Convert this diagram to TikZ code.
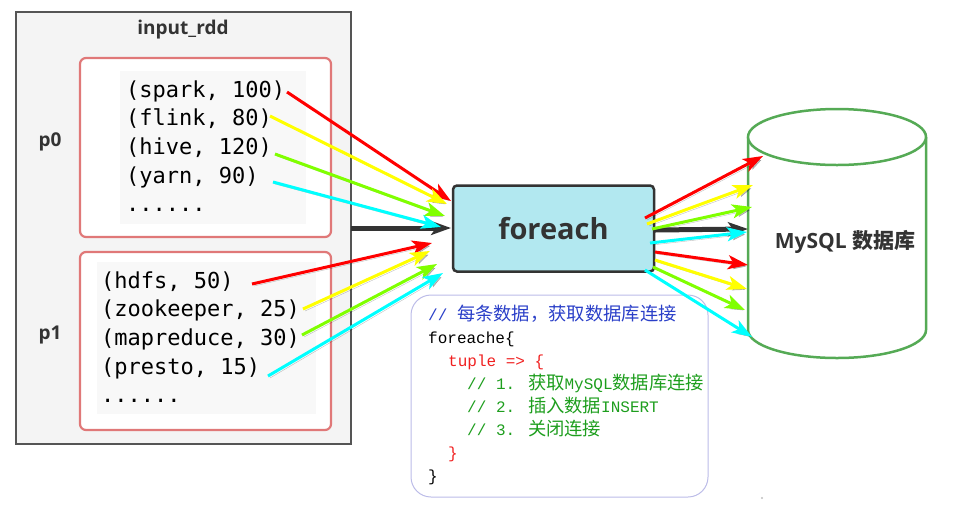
\documentclass[tikz,border=0pt]{standalone}
\usepackage{fontspec}
\setsansfont{Open Sans}
\setmonofont{DejaVu Sans Mono}
\newfontfamily\codefont{Liberation Mono}
\newfontfamily\cjk{Noto Sans CJK SC}
\usetikzlibrary{arrows.meta}

\definecolor{rddgray}{HTML}{F4F4F4}
\definecolor{rddline}{HTML}{555555}
\definecolor{partred}{HTML}{E07878}
\definecolor{codebg}{HTML}{F8F8F8}
\definecolor{boxcyan}{HTML}{B2E8F0}
\definecolor{txt}{HTML}{333333}
\definecolor{dbgreen}{HTML}{55AA55}
\definecolor{lav}{HTML}{BCBCE8}
\definecolor{cmtblue}{HTML}{2A3FC8}
\definecolor{cmtgreen}{HTML}{1E9E1E}
\definecolor{kwred}{HTML}{F02020}
\definecolor{aRed}{HTML}{FF0000}
\definecolor{aYel}{HTML}{FFFF00}
\definecolor{aGrn}{HTML}{80FF00}
\definecolor{aCyn}{HTML}{00FFFF}

\newcommand{\zh}[1]{{\cjk\fontsize{18.3}{19}\selectfont #1}}

\begin{document}
\begin{tikzpicture}[x=1pt, y=-1pt,
  lbl/.style={font=\sffamily\bfseries\fontsize{19}{22}\selectfont, text=txt},
  kv/.style={anchor=base west, inner sep=0pt, font=\ttfamily\fontsize{22}{24}\selectfont},
  cl/.style={anchor=base west, inner sep=0pt, font=\codefont\fontsize{16}{18}\selectfont},
  flow/.style={line width=3pt, -{Stealth[length=20pt, width=14pt, inset=5pt]},
    preaction={draw=black, opacity=.25, transform canvas={shift={(2pt,-2pt)}}}},
  bold/.style={line width=5pt, draw=txt, -{Stealth[length=20pt, width=14pt, inset=5pt]}}]
  \useasboundingbox (0,0) rectangle (957,515);

  % input_rdd with its two partitions
  \node[draw=rddline, line width=1.2pt, fill=rddgray, minimum width=335pt, minimum height=432pt] (rdd) at (183.5,228) {};
  \node[lbl] (rddname) at (183,30) {input\_rdd};
  \node[draw=partred, line width=2.2pt, rounded corners=6pt, fill=white, minimum width=251pt, minimum height=179pt] (part0) at (205.5,147.5) {};
  \node[draw=partred, line width=2.2pt, rounded corners=6pt, fill=white, minimum width=251pt, minimum height=178pt] (part1) at (205.5,341) {};
  \fill[codebg] (120,71) rectangle (306,224);
  \fill[codebg] (97,262) rectangle (316,414);
  \node[lbl] (p0) at (50,142) {p0};
  \node[lbl] (p1) at (50,335) {p1};

  \node[kv] (spark) at (126,97) {(spark, 100)};
  \node[kv] (flink) at (126,125) {(flink, 80)};
  \node[kv] (hive) at (126,154) {(hive, 120)};
  \node[kv] (yarn) at (126,183) {(yarn, 90)};
  \node[kv] (more0) at (126,211) {......};
  \node[kv] (hdfs) at (101,288) {(hdfs, 50)};
  \node[kv] (zk) at (101,316) {(zookeeper, 25)};
  \node[kv] (mr) at (101,345) {(mapreduce, 30)};
  \node[kv] (presto) at (101,374) {(presto, 15)};
  \node[kv] (more1) at (101,402) {......};

  % foreach
  \node[draw=txt, line width=2.5pt, rounded corners=4pt, fill=boxcyan, minimum width=201pt, minimum height=86pt,
        font=\sffamily\bfseries\fontsize{29}{32}\selectfont, text=txt] (fe) at (553.5,228.5) {foreach};

  % MySQL
  \draw[dbgreen, line width=2.5pt, fill=white] (748,137) -- (748,330) arc[start angle=180, end angle=0, x radius=89, y radius=28] -- (926,137);
  \draw[dbgreen, line width=2.5pt, fill=white] (837,137) ellipse [x radius=89, y radius=28];
  \node[font=\sffamily\bfseries\fontsize{21}{24}\selectfont, text=txt] (db) at (845,242) {MySQL {\cjk\bfseries 数据库}};

  % code
  \node[draw=lav, line width=1pt, rounded corners=20pt, minimum width=297pt, minimum height=202pt] (code) at (559.5,396) {};
  \node[cl, text=cmtblue] (c1) at (428,320) {// \zh{每条数据，获取数据库连接}};
  \node[cl] (c2) at (428,343) {foreache\{};
  \node[cl, text=kwred] (c3) at (448,366) {tuple => \{};
  \node[cl, text=cmtgreen] (c4) at (467,389) {// 1. \zh{获取}MySQL\zh{数据库连接}};
  \node[cl, text=cmtgreen] (c5) at (467,412) {// 2. \zh{插入数据}INSERT};
  \node[cl, text=cmtgreen] (c6) at (467,435) {// 3. \zh{关闭连接}};
  \node[cl, text=kwred] (c7) at (448,458) {\}};
  \node[cl] (c8) at (428,481) {\}};
  \fill[gray!50] (762,498) circle (1.2);

  % arrows
  \coordinate (rddout) at (351,228);
  \coordinate (fein) at (451,228);
  \coordinate (feout) at (655,230);
  \coordinate (dbin) at (748,229);
  \draw[bold] (rddout) -- (fein);
  \draw[bold] (feout) -- (dbin);
  \foreach \col/\ax/\ay/\bx/\by [count=\i] in {aRed/287/92/451/201, aYel/270/116/447/204, aGrn/275/154/445/216, aCyn/273/182/441/227,
      aRed/252/284/432/243, aYel/303/309/430/251, aGrn/302/335/437/264, aCyn/268/376/443/273}{
    \coordinate (in\i) at (\ax,\ay);
    \coordinate (fe\i) at (\bx,\by);
    \draw[flow, \col] (in\i) -- (fe\i);
  }
  \foreach \col/\ax/\ay/\bx/\by [count=\i] in {aRed/645/218/763/156, aYel/647/224/753/185, aGrn/652/229/752/207, aCyn/650/243/747/232,
      aRed/655/252/748/265, aYel/655/260/747/289, aGrn/653/267/745/310, aCyn/645/270/752/337}{
    \coordinate (out\i) at (\ax,\ay);
    \coordinate (db\i) at (\bx,\by);
    \draw[flow, \col] (out\i) -- (db\i);
  }
\end{tikzpicture}
\end{document}
